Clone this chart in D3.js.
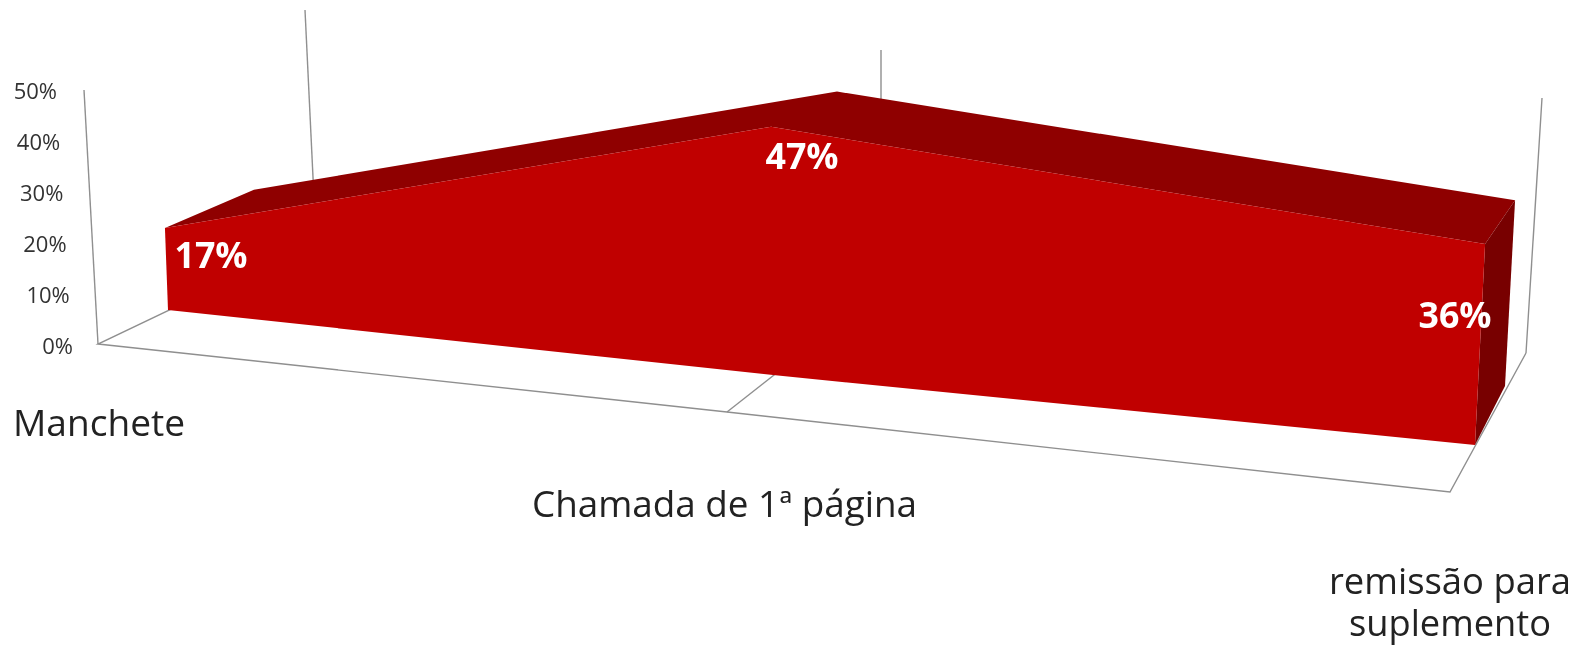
<html>
<head>
<meta charset="utf-8">
<style>
  html, body { margin: 0; padding: 0; background: #fff; overflow: hidden; }
  svg { display: block; }
  text { font-family: "Open Sans", sans-serif; }
  .cat { font-size: 37px; fill: #222; }
  .tick text { font-size: 22px; fill: #333; }
  .lbl { font-size: 36px; font-weight: 700; fill: #fff; text-anchor: middle; }
  .wall { fill: none; stroke: #8f8f8f; stroke-width: 1.4; }
</style>
<script src="https://d3js.org/d3.v7.min.js"></script>
</head>
<body>
<svg id="chart" width="1579" height="647"></svg>
<script>
// values
var categories = ["Manchete", "Chamada de 1ª página", "remissão para suplemento"]
var values = [17, 47, 36]
var valueTicks = [0, 10, 20, 30, 40, 50]
var catIndex = [0, 1, 2]

var svg = d3.select("#chart")
var defs = svg.append("defs")
defs.append("filter").attr("id", "soft").append("feGaussianBlur").attr("stdDeviation", 0.6)
var root = svg.append("g").attr("filter", "url(#soft)")

// a depth plane of the 3d box: base line at 0%, top line at 50%
function plane(baseX, baseY, topX, topY) {
  var bx = d3.scaleLinear().domain(catIndex).range(baseX)
  var by = d3.scaleLinear().domain(catIndex).range(baseY)
  var tx = d3.scaleLinear().domain(catIndex).range(topX)
  var ty = d3.scaleLinear().domain(catIndex).range(topY)
  var v = d3.scaleLinear().domain([0, 50]).range([0, 1])
  return {
    x: function(i, val) { return d3.interpolateNumber(bx(i), tx(i))(v(val)) },
    y: function(i, val) { return d3.interpolateNumber(by(i), ty(i))(v(val)) }
  }
}

var wallFront = plane([98, 727, 1450], [344, 412, 492], [84, 713, 1466], [90, 159, 237])
var wallBack  = plane([316, 881, 1526], [240, 291, 353], [305, 881, 1542], [10, 50, 98])
var areaFront = plane([168, 773, 1475], [310, 375, 445], [159, 771, 1489], [69, 111, 166])
var areaBack  = plane([257, 837, 1505], [266, 320, 386], [248, 837, 1519], [42, 77, 128])

var line = d3.line().x(function(d) { return d[0] }).y(function(d) { return d[1] })
function pt(p, i, val) { return [p.x(i, val), p.y(i, val)] }

// walls and floor
var walls = [
  [pt(wallFront, 0, 50), pt(wallFront, 0, 0)],
  [pt(wallBack, 0, 50), pt(wallBack, 0, 0)],
  [pt(wallBack, 1, 50), pt(wallBack, 1, 0)],
  [pt(wallBack, 2, 50), pt(wallBack, 2, 0)],
  [pt(wallBack, 0, 0), pt(wallFront, 0, 0), pt(wallFront, 1, 0), pt(wallFront, 2, 0), pt(wallBack, 2, 0)],
  [pt(wallFront, 1, 0), pt(wallBack, 1, 0)]
]
root.selectAll(".wall").data(walls).enter().append("path")
  .attr("class", "wall").attr("d", line)

// top face of the area
root.append("path").datum(catIndex)
  .attr("fill", "#8f0000")
  .attr("d", d3.area()
    .x0(function(i) { return areaFront.x(i, values[i]) })
    .y0(function(i) { return areaFront.y(i, values[i]) })
    .x1(function(i) { return areaBack.x(i, values[i]) })
    .y1(function(i) { return areaBack.y(i, values[i]) }))

// right end of the area
var last = catIndex.length - 1
root.append("path")
  .attr("fill", "#780000")
  .attr("d", line([pt(areaFront, last, values[last]), pt(areaBack, last, values[last]),
                   pt(areaBack, last, 0), pt(areaFront, last, 0)]) + "Z")

// front face
root.append("path").datum(catIndex)
  .attr("fill", "#c00000")
  .attr("d", d3.area()
    .x0(function(i) { return areaFront.x(i, 0) })
    .y0(function(i) { return areaFront.y(i, 0) })
    .x1(function(i) { return areaFront.x(i, values[i]) })
    .y1(function(i) { return areaFront.y(i, values[i]) }))

// value axis, labels step right as they go down
var tickY = d3.scaleLinear().domain([0, 50]).range([346, 91])
var tickX = d3.scaleLinear().domain([0, 50]).range([73, 57])
var axis = root.append("g").call(d3.axisLeft(tickY).tickValues(valueTicks)
  .tickSize(0).tickFormat(function(d) { return d + "%" }))
axis.select(".domain").remove()
axis.selectAll(".tick text")
  .attr("x", function(d) { return tickX(d) })
  .attr("dy", "0.36em")
  .attr("text-anchor", "end")

// category labels
var catLabelX = [13, 532, 1329]
var catLabelY = [436, 517, 594]
var catLabelW = [172, 385, 242]
root.append("text").attr("class", "cat").attr("x", catLabelX[0]).attr("y", catLabelY[0])
  .attr("textLength", catLabelW[0]).attr("lengthAdjust", "spacingAndGlyphs").text(categories[0])
root.append("text").attr("class", "cat").attr("x", catLabelX[1]).attr("y", catLabelY[1])
  .attr("textLength", catLabelW[1]).attr("lengthAdjust", "spacingAndGlyphs").text(categories[1])
root.append("text").attr("class", "cat").attr("x", catLabelX[2]).attr("y", catLabelY[2])
  .attr("textLength", catLabelW[2]).attr("lengthAdjust", "spacingAndGlyphs").text("remissão para")
root.append("text").attr("class", "cat").attr("x", 1349).attr("y", 636)
  .attr("textLength", 202).attr("lengthAdjust", "spacingAndGlyphs").text("suplemento")

// data labels
var labelX = d3.scaleLinear().domain(catIndex).range([211, 802, 1455])
var labelY = d3.scaleLinear().domain(catIndex).range([268, 169, 328])
root.selectAll(".lbl").data(values).enter().append("text")
  .attr("class", "lbl")
  .attr("x", function(d, i) { return labelX(i) })
  .attr("y", function(d, i) { return labelY(i) })
  .attr("textLength", 73).attr("lengthAdjust", "spacingAndGlyphs")
  .text(function(d) { return d + "%" })
</script>
</body>
</html>
